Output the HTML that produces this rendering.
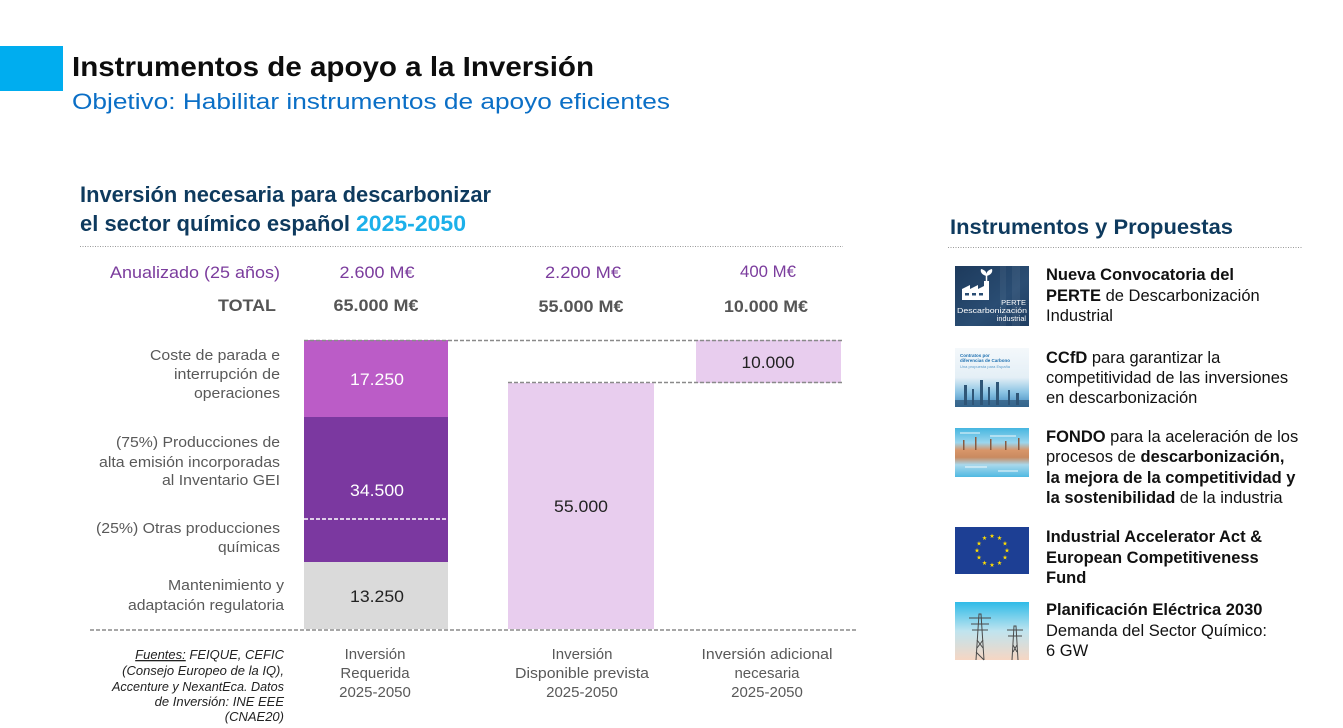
<!DOCTYPE html>
<html>
<head>
<meta charset="utf-8">
<style>
  html,body{margin:0;padding:0;background:#fff;}
  svg{display:block;}
  text{font-family:"Liberation Sans", Arial, sans-serif;}
</style>
</head>
<body>
<svg width="1343" height="728" viewBox="0 0 1343 728" xmlns="http://www.w3.org/2000/svg">
  <defs>
    <linearGradient id="g1" x1="0" y1="0" x2="1" y2="1">
      <stop offset="0" stop-color="#1d3a5c"/>
      <stop offset="0.6" stop-color="#2a4d73"/>
      <stop offset="1" stop-color="#1f3d61"/>
    </linearGradient>
    <linearGradient id="g2" x1="0" y1="0" x2="0" y2="1">
      <stop offset="0" stop-color="#f4f8fb"/>
      <stop offset="0.5" stop-color="#e4eff6"/>
      <stop offset="0.75" stop-color="#8cc4e4"/>
      <stop offset="1" stop-color="#3f88bd"/>
    </linearGradient>
    <linearGradient id="g3" x1="0" y1="0" x2="0" y2="1">
      <stop offset="0" stop-color="#45b6e0"/>
      <stop offset="0.3" stop-color="#9bd6ee"/>
      <stop offset="0.45" stop-color="#d8966a"/>
      <stop offset="0.6" stop-color="#c98a60"/>
      <stop offset="0.75" stop-color="#a9d8ec"/>
      <stop offset="1" stop-color="#4fb9e2"/>
    </linearGradient>
    <linearGradient id="g5" x1="0" y1="0" x2="0" y2="1">
      <stop offset="0" stop-color="#2fbbe8"/>
      <stop offset="0.5" stop-color="#bfe4ef"/>
      <stop offset="1" stop-color="#f6d6c3"/>
    </linearGradient>
    <clipPath id="c1"><rect x="955" y="266" width="74" height="60"/></clipPath>
    <symbol id="star" viewBox="-1 -1 2 2">
      <polygon fill="#ffdd00" points="0,-1 0.2245,-0.309 0.951,-0.309 0.363,0.118 0.588,0.809 0,0.382 -0.588,0.809 -0.363,0.118 -0.951,-0.309 -0.2245,-0.309"/>
    </symbol>
  </defs>

  <!-- header -->
  <rect x="0" y="46" width="63" height="45" fill="#00adef"/>
  <text x="72" y="76" font-size="28" font-weight="bold" fill="#0d0d0d" textLength="522" lengthAdjust="spacingAndGlyphs">Instrumentos de apoyo a la Inversión</text>
  <text x="72" y="109" font-size="22" fill="#0b6fc6" textLength="598" lengthAdjust="spacingAndGlyphs">Objetivo: Habilitar instrumentos de apoyo eficientes</text>

  <!-- chart title -->
  <text x="80" y="202" font-size="22" font-weight="bold" fill="#0e3a5e" textLength="411" lengthAdjust="spacingAndGlyphs">Inversión necesaria para descarbonizar</text>
  <text x="80" y="231" font-size="22" font-weight="bold" fill="#0e3a5e" textLength="270" lengthAdjust="spacingAndGlyphs">el sector químico español</text>
  <text x="356" y="231" font-size="22" font-weight="bold" fill="#1cb0ea" textLength="110" lengthAdjust="spacingAndGlyphs">2025-2050</text>
  <line x1="80" y1="246.5" x2="843" y2="246.5" stroke="#9a9a9a" stroke-width="1" stroke-dasharray="1 1.5"/>

  <!-- right title -->
  <text x="950" y="234" font-size="21" font-weight="bold" fill="#0e3a5e" textLength="283" lengthAdjust="spacingAndGlyphs">Instrumentos y Propuestas</text>
  <line x1="948" y1="247.5" x2="1302" y2="247.5" stroke="#9a9a9a" stroke-width="1" stroke-dasharray="1 1.5"/>

  <!-- header rows -->
  <text x="110" y="278" font-size="16.5" fill="#7b3c9d" textLength="170" lengthAdjust="spacingAndGlyphs">Anualizado (25 años)</text>
  <text x="377" y="278" font-size="16.5" fill="#7b3c9d" text-anchor="middle" textLength="75" lengthAdjust="spacingAndGlyphs">2.600 M€</text>
  <text x="583" y="278" font-size="16.5" fill="#7b3c9d" text-anchor="middle" textLength="76" lengthAdjust="spacingAndGlyphs">2.200 M€</text>
  <text x="768" y="277" font-size="16.5" fill="#7b3c9d" text-anchor="middle" textLength="56" lengthAdjust="spacingAndGlyphs">400 M€</text>

  <text x="276" y="311" font-size="16.5" font-weight="bold" fill="#555" text-anchor="end" textLength="58" lengthAdjust="spacingAndGlyphs">TOTAL</text>
  <text x="376" y="311" font-size="16.5" font-weight="bold" fill="#555" text-anchor="middle" textLength="85" lengthAdjust="spacingAndGlyphs">65.000 M€</text>
  <text x="581" y="312" font-size="16.5" font-weight="bold" fill="#555" text-anchor="middle" textLength="85" lengthAdjust="spacingAndGlyphs">55.000 M€</text>
  <text x="766" y="312" font-size="16.5" font-weight="bold" fill="#555" text-anchor="middle" textLength="84" lengthAdjust="spacingAndGlyphs">10.000 M€</text>

  <!-- bars -->
  <rect x="304" y="340" width="144" height="77" fill="#bb5cc7"/>
  <rect x="304" y="417" width="144" height="145" fill="#7b38a0"/>
  <rect x="304" y="562" width="144" height="67" fill="#dadada"/>
  <line x1="304" y1="519" x2="448" y2="519" stroke="#ffffff" stroke-width="1.5" stroke-dasharray="4 2"/>
  <rect x="508" y="383" width="146" height="246" fill="#e8cdee"/>
  <rect x="696" y="340" width="145" height="43" fill="#e8cdee"/>

  <!-- dashed guides -->
  <line x1="304" y1="340.5" x2="842" y2="340.5" stroke="#8a8a8a" stroke-width="1.5" stroke-dasharray="4 2"/>
  <line x1="508" y1="382.5" x2="842" y2="382.5" stroke="#8a8a8a" stroke-width="1.5" stroke-dasharray="4 2"/>
  <line x1="90" y1="630" x2="858" y2="630" stroke="#8a8a8a" stroke-width="1.5" stroke-dasharray="4 2"/>

  <!-- bar values -->
  <text x="377" y="385" font-size="17" fill="#ffffff" text-anchor="middle" textLength="54" lengthAdjust="spacingAndGlyphs">17.250</text>
  <text x="377" y="496" font-size="17" fill="#ffffff" text-anchor="middle" textLength="54" lengthAdjust="spacingAndGlyphs">34.500</text>
  <text x="377" y="602" font-size="17" fill="#222" text-anchor="middle" textLength="54" lengthAdjust="spacingAndGlyphs">13.250</text>
  <text x="581" y="512" font-size="17" fill="#222" text-anchor="middle" textLength="54" lengthAdjust="spacingAndGlyphs">55.000</text>
  <text x="768" y="368" font-size="17" fill="#222" text-anchor="middle" textLength="53" lengthAdjust="spacingAndGlyphs">10.000</text>

  <!-- left category labels -->
  <g font-size="15" fill="#595959" text-anchor="end">
    <text x="280" y="360" textLength="130" lengthAdjust="spacingAndGlyphs">Coste de parada e</text>
    <text x="280" y="379" textLength="106" lengthAdjust="spacingAndGlyphs">interrupción de</text>
    <text x="280" y="398" textLength="86" lengthAdjust="spacingAndGlyphs">operaciones</text>
    <text x="280" y="447" textLength="164" lengthAdjust="spacingAndGlyphs">(75%) Producciones de</text>
    <text x="280" y="467" textLength="181" lengthAdjust="spacingAndGlyphs">alta emisión incorporadas</text>
    <text x="280" y="485" textLength="118" lengthAdjust="spacingAndGlyphs">al Inventario GEI</text>
    <text x="280" y="533" textLength="184" lengthAdjust="spacingAndGlyphs">(25%) Otras producciones</text>
    <text x="280" y="552" textLength="62" lengthAdjust="spacingAndGlyphs">químicas</text>
    <text x="284" y="590" textLength="116" lengthAdjust="spacingAndGlyphs">Mantenimiento y</text>
    <text x="284" y="610" textLength="156" lengthAdjust="spacingAndGlyphs">adaptación regulatoria</text>
  </g>

  <!-- bottom labels -->
  <g font-size="15" fill="#595959" text-anchor="middle">
    <text x="375" y="659">Inversión</text>
    <text x="375" y="678">Requerida</text>
    <text x="375" y="697">2025-2050</text>
    <text x="582" y="659">Inversión</text>
    <text x="582" y="678" textLength="134" lengthAdjust="spacingAndGlyphs">Disponible prevista</text>
    <text x="582" y="697">2025-2050</text>
    <text x="767" y="659" textLength="131" lengthAdjust="spacingAndGlyphs">Inversión adicional</text>
    <text x="767" y="678">necesaria</text>
    <text x="767" y="697">2025-2050</text>
  </g>

  <!-- sources -->
  <g font-size="13" font-style="italic" fill="#222" text-anchor="end">
    <text x="284" y="659"><tspan text-decoration="underline">Fuentes:</tspan> FEIQUE, CEFIC</text>
    <text x="284" y="675">(Consejo Europeo de la IQ),</text>
    <text x="284" y="691" textLength="172" lengthAdjust="spacingAndGlyphs">Accenture y NexantEca. Datos</text>
    <text x="284" y="706">de Inversión: INE EEE</text>
    <text x="284" y="721">(CNAE20)</text>
  </g>

  <!-- image 1: PERTE -->
  <g clip-path="url(#c1)">
  <rect x="955" y="266" width="74" height="60" fill="url(#g1)"/>
  <rect x="1000" y="266" width="6" height="60" fill="#ffffff" opacity="0.05"/>
  <rect x="1012" y="266" width="8" height="60" fill="#ffffff" opacity="0.06"/>
  <g fill="#ffffff">
    <polygon points="962,300 962,289 970,285 970,289 978,285 978,289 984,286 984,281 989,281 989,300"/>
    <rect x="965" y="293" width="4" height="2.5" fill="#2a4d73"/>
    <rect x="972" y="293" width="4" height="2.5" fill="#2a4d73"/>
    <rect x="979" y="293" width="4" height="2.5" fill="#2a4d73"/>
    <path d="M986.5 281 L986.5 275" stroke="#fff" stroke-width="1.5"/>
    <path d="M986.5 276 C982 275 980 272 981 269 C985 270 987 272 986.5 276 Z"/>
    <path d="M986.5 276 C991 275 993 272 992 269 C988 270 986 272 986.5 276 Z"/>
  </g>
  <text x="1026" y="305" font-size="7.5" fill="#fff" text-anchor="end">PERTE</text>
  <text x="1027" y="313" font-size="7.3" fill="#fff" text-anchor="end" textLength="70" lengthAdjust="spacingAndGlyphs">Descarbonización</text>
  <text x="1026" y="321" font-size="7.3" fill="#fff" text-anchor="end">industrial</text>
  </g>

  <!-- image 2: CCfD -->
  <rect x="955" y="348" width="74" height="59" fill="url(#g2)"/>
  <text x="960" y="357" font-size="4.5" font-weight="bold" fill="#1c6fb0">Contratos por</text>
  <text x="960" y="362" font-size="4.5" font-weight="bold" fill="#1c6fb0">diferencias de Carbono</text>
  <text x="960" y="368" font-size="4" fill="#5a9ccc">Una propuesta para España</text>
  <g fill="#2f5677">
    <rect x="964" y="385" width="3" height="20"/>
    <rect x="972" y="389" width="2" height="16"/>
    <rect x="980" y="380" width="3" height="25"/>
    <rect x="988" y="387" width="2" height="18"/>
    <rect x="996" y="382" width="3" height="23"/>
    <rect x="1008" y="390" width="2" height="15"/>
    <rect x="1016" y="393" width="3" height="12"/>
    <rect x="955" y="400" width="74" height="7" opacity="0.7"/>
  </g>

  <!-- image 3: FONDO -->
  <rect x="955" y="428" width="74" height="49" fill="url(#g3)"/>
  <g fill="#ffffff" opacity="0.45">
    <rect x="960" y="432" width="20" height="2"/>
    <rect x="990" y="435" width="26" height="2"/>
    <rect x="965" y="466" width="22" height="2"/>
    <rect x="998" y="470" width="20" height="2"/>
  </g>
  <g fill="#8a5a3e">
    <rect x="963" y="440" width="1.5" height="10"/>
    <rect x="975" y="437" width="1.5" height="13"/>
    <rect x="990" y="439" width="1.5" height="11"/>
    <rect x="1005" y="441" width="1.5" height="9"/>
    <rect x="1018" y="438" width="1.5" height="12"/>
  </g>

  <!-- image 4: EU flag -->
  <rect x="955" y="527" width="74" height="47" fill="#1d3f94"/>
  <g>
    <use href="#star" x="989.5" y="533.5" width="5" height="5"/>
    <use href="#star" x="997" y="535.5" width="5" height="5"/>
    <use href="#star" x="1002.5" y="541" width="5" height="5"/>
    <use href="#star" x="1004.5" y="548" width="5" height="5"/>
    <use href="#star" x="1002.5" y="555" width="5" height="5"/>
    <use href="#star" x="997" y="560.5" width="5" height="5"/>
    <use href="#star" x="989.5" y="562.5" width="5" height="5"/>
    <use href="#star" x="982" y="560.5" width="5" height="5"/>
    <use href="#star" x="976.5" y="555" width="5" height="5"/>
    <use href="#star" x="974.5" y="548" width="5" height="5"/>
    <use href="#star" x="976.5" y="541" width="5" height="5"/>
    <use href="#star" x="982" y="535.5" width="5" height="5"/>
  </g>

  <!-- image 5: pylons -->
  <rect x="955" y="602" width="74" height="58" fill="url(#g5)"/>
  <g stroke="#4a4a4a" stroke-width="1" fill="none">
    <path d="M976 660 L979 614 L981 614 L984 660"/>
    <path d="M969 618 L991 618 M971 624 L989 624 M972 630 L988 630"/>
    <path d="M977 640 L983 648 M983 640 L977 648 M976 652 L984 660"/>
    <path d="M1012 660 L1014 626 L1016 626 L1018 660"/>
    <path d="M1007 630 L1023 630 M1008 636 L1022 636"/>
    <path d="M1013 645 L1017 652 M1017 645 L1013 652"/>
  </g>

  <!-- right texts -->
  <g font-size="16.5" fill="#111">
    <text x="1046" y="280" font-weight="bold">Nueva Convocatoria del</text>
    <text x="1046" y="301"><tspan font-weight="bold">PERTE</tspan> de Descarbonización</text>
    <text x="1046" y="321">Industrial</text>

    <text x="1046" y="363"><tspan font-weight="bold">CCfD</tspan> para garantizar la</text>
    <text x="1046" y="383">competitividad de las inversiones</text>
    <text x="1046" y="403">en descarbonización</text>

    <text x="1046" y="442"><tspan font-weight="bold">FONDO</tspan> para la aceleración de los</text>
    <text x="1046" y="462">procesos de <tspan font-weight="bold">descarbonización,</tspan></text>
    <text x="1046" y="483" font-weight="bold">la mejora de la competitividad y</text>
    <text x="1046" y="503"><tspan font-weight="bold">la sostenibilidad</tspan> de la industria</text>

    <text x="1046" y="542" font-weight="bold">Industrial Accelerator Act &amp;</text>
    <text x="1046" y="563" font-weight="bold">European Competitiveness</text>
    <text x="1046" y="583" font-weight="bold">Fund</text>

    <text x="1046" y="615" font-weight="bold">Planificación Eléctrica 2030</text>
    <text x="1046" y="636">Demanda del Sector Químico:</text>
    <text x="1046" y="656">6 GW</text>
  </g>
</svg>
</body>
</html>
